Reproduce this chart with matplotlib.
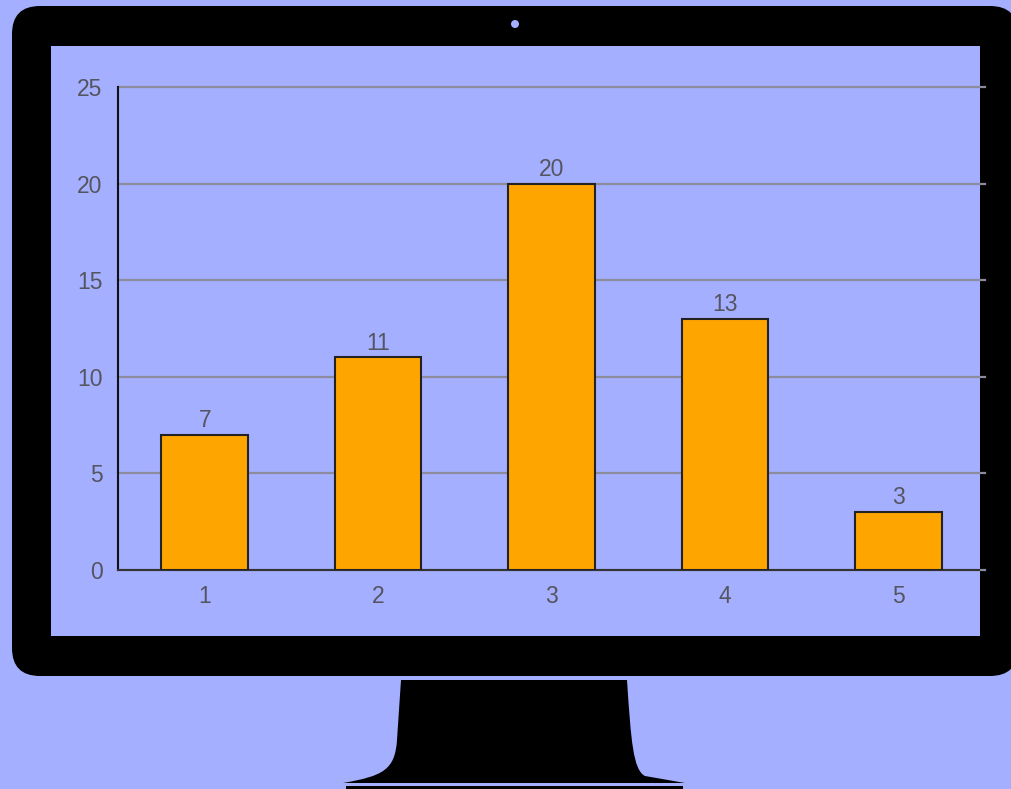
import matplotlib
matplotlib.use("Agg")
import matplotlib.pyplot as plt
from matplotlib.patches import FancyBboxPatch, Rectangle, Circle, PathPatch
from matplotlib.path import Path

# data
categories = [1, 2, 3, 4, 5]
values = [7, 11, 20, 13, 3]
yticks = [0, 5, 10, 15, 20, 25]

bg = "#a4afff"
bar_color = "#ffa500"
text_color = "#555560"

W, H = 1011, 789
fig = plt.figure(figsize=(W / 100, H / 100), dpi=100)
fig.patch.set_facecolor(bg)

# monitor drawn in pixel coords
mon = fig.add_axes([0, 0, 1, 1])
mon.set_xlim(0, W)
mon.set_ylim(H, 0)
mon.axis("off")
mon.add_patch(FancyBboxPatch((12 + 28, 6 + 28), 1030 - 80, 670 - 56,
                             boxstyle="round,pad=28", fc="black", ec="none"))
mon.add_patch(Rectangle((51, 46), 929, 590, fc=bg, ec="none"))
mon.add_patch(Circle((515, 24), 4, fc=bg, ec="none"))

# stand
verts = [(401, 680), (627, 680),
         (631, 740), (633, 770), (645, 776),
         (685, 783), (343, 783),
         (383, 776), (395, 770), (397, 740),
         (401, 680)]
codes = [Path.MOVETO, Path.LINETO,
         Path.CURVE4, Path.CURVE4, Path.CURVE4,
         Path.LINETO, Path.LINETO,
         Path.CURVE4, Path.CURVE4, Path.CURVE4,
         Path.CLOSEPOLY]
mon.add_patch(PathPatch(Path(verts, codes), fc="black", ec="none"))
mon.add_patch(Rectangle((346, 786), 337, 3, fc="black", ec="none"))

# chart
ax = fig.add_axes([118 / W, 1 - 570 / H, (985 - 118) / W, (570 - 87) / H])
ax.set_facecolor("none")
ax.bar(categories, values, width=0.5, color=bar_color, edgecolor="#222222",
       linewidth=1.5, zorder=3)
for x, v in zip(categories, values):
    ax.text(x, v + 0.15, str(v), ha="center", va="bottom", fontsize=16.5,
            color=text_color, family="Liberation Sans")
ax.set_xlim(0.5, 5.5)
ax.set_ylim(0, 25)
ax.set_xticks(categories)
ax.set_yticks(yticks)
ax.yaxis.grid(True, color="#8c8c9c", linewidth=1.6, zorder=1)
for gl in ax.get_ygridlines():
    gl.set_clip_on(False)
ax.tick_params(length=0, labelsize=16.5, colors=text_color)
ax.tick_params(axis="y", pad=11)
ax.tick_params(axis="x", pad=11)
for lab in ax.get_xticklabels() + ax.get_yticklabels():
    lab.set_family("Liberation Sans")
ax.spines["top"].set_visible(False)
ax.spines["right"].set_visible(False)
ax.spines["left"].set_color("#111111")
ax.spines["left"].set_linewidth(1.5)
ax.spines["bottom"].set_color("#333333")
ax.spines["bottom"].set_linewidth(1.5)
ax.spines["bottom"].set_bounds(0.5, 5.465)

fig.savefig("out.png", dpi=100, facecolor=bg)
